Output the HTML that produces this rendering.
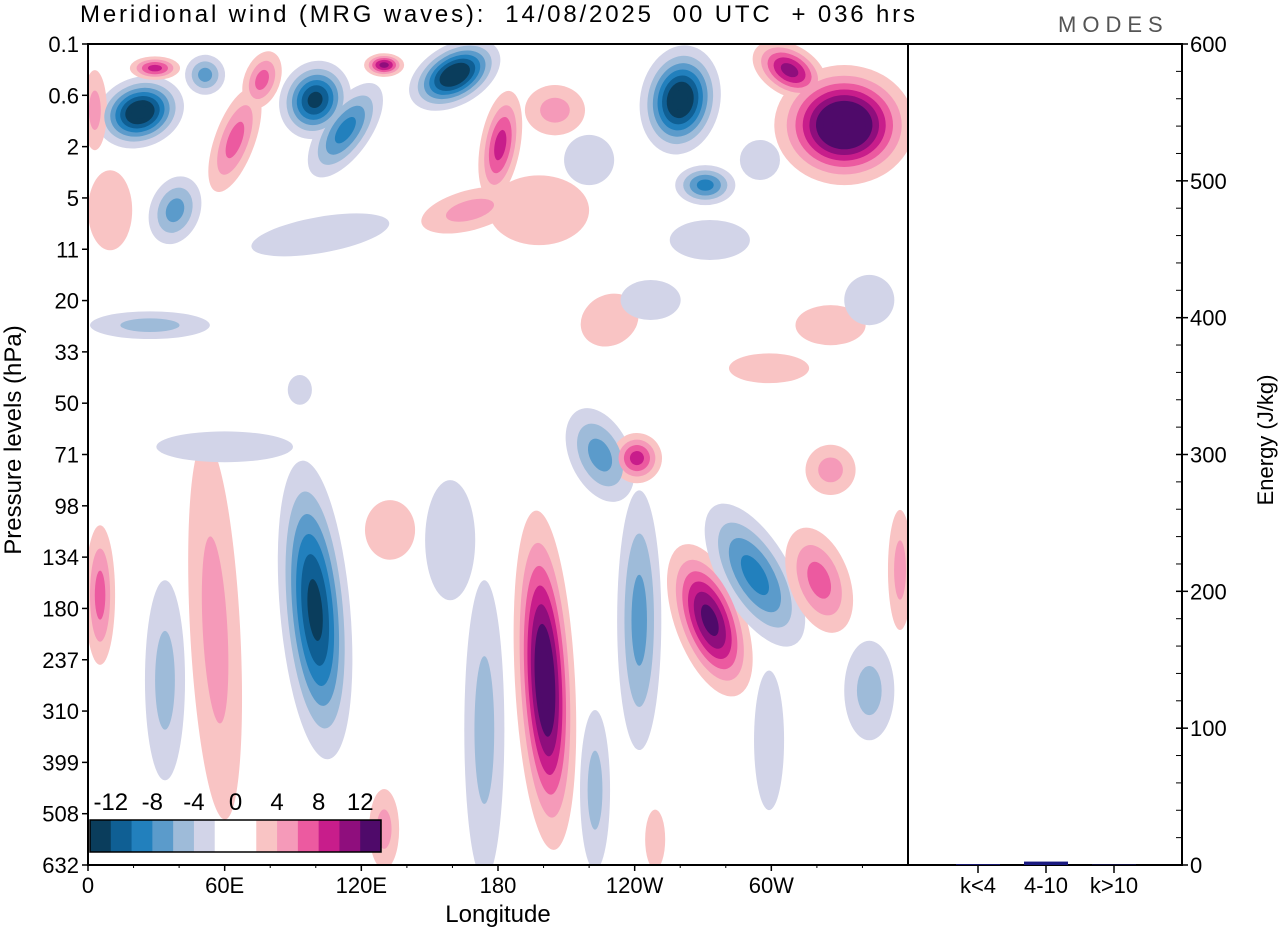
<!DOCTYPE html>
<html><head><meta charset="utf-8">
<style>
html,body{margin:0;padding:0;background:#fff;}
svg text{font-family:"Liberation Sans",sans-serif;fill:#000;white-space:pre;}
</style></head>
<body>
<svg id="chart" width="1280" height="930" viewBox="0 0 1280 930" xmlns="http://www.w3.org/2000/svg">
<defs><clipPath id="clipMain"><rect x="88" y="44" width="820" height="821"/></clipPath></defs>
<text x="80" y="22" font-size="24" textLength="835" lengthAdjust="spacing" xml:space="preserve">Meridional wind (MRG waves):  14/08/2025  00 UTC  + 036 hrs</text>
<text x="1058" y="32" font-size="22" letter-spacing="6" style="fill:#555">MODES</text>
<g id="field" clip-path="url(#clipMain)"></g>
<g id="axes"></g>
</svg>
<script>
// Blob data: lon (deg E, 0-360), level index, radius lon (deg), radius levels, amplitude (m/s), tilt (deg)
const blobLon = [22.8,29.4,51.4,64.5,99.7,76.4,113,130,161,181,167.7,205,260,271,332,308,38.2,3,220,295,9.7,102,273,198,27.2,229,326,299,247,343,93,224.8,241,99.7,5.3,55.8,33.8,200.6,242,273,292.8,321,343,356.5,174,222.6,326,132.6,159,299,130,249,60];
const blobLev = [1.33,0.47,0.6,1.87,1.09,0.7,1.68,0.41,0.6,1.97,3.24,1.29,1.09,2.75,1.58,0.51,3.24,1.29,2.26,2.26,3.24,3.72,3.82,3.24,5.48,5.38,5.48,6.32,4.99,4.99,6.74,8.01,8.07,11.03,10.74,11.42,12.4,12.4,11.23,11.23,10.35,10.45,12.6,10.25,13.37,14.54,8.3,9.47,9.67,13.57,15.3,15.5,7.85];
const blobRx = [19.8,11,8.8,8.8,15.4,7.9,11,8.8,13.2,8.8,22,13.2,17.6,13.2,30.7,17.6,11,5.3,11,8.8,9.7,30.7,17.6,22,26.3,13.2,15.4,17.6,13.2,11,5.3,13.2,11,15.4,6.6,11,8.8,13.2,9.7,15.4,15.4,13.2,11,5.3,8.8,6.6,11,11,11,6.6,6.6,4.4,30];
const blobRy = [0.68,0.23,0.39,1.07,0.78,0.58,1.07,0.23,0.97,1.07,0.39,0.49,1.07,0.39,1.17,0.49,0.68,0.78,0.49,0.39,0.78,0.35,0.39,0.68,0.27,0.49,0.39,0.29,0.39,0.49,0.29,0.97,0.49,2.92,1.36,3.7,1.95,3.31,2.53,1.56,1.56,1.07,0.97,1.17,2.92,1.56,0.49,0.58,1.17,1.36,0.78,0.58,0.3];
const blobAmp = [-14,8,-6,6,-12,6,-8,10,-14,8,4,4,-14,-8,16,10,-6,4,-2,-2,2,-2,-2,2,-4,2,2,2,-2,-2,-2,-6,8,-12,6,4,-4,14,-6,12,-8,6,-4,4,-4,-4,4,2,-2,-2,4,2,-2];
const blobTilt = [-20,0,-30,20,25,20,35,0,60,10,-15,0,10,0,0,30,20,0,0,0,0,-10,0,0,0,-30,0,0,0,0,0,-25,-30,-5,0,-3,0,-3,0,-20,-30,-20,0,0,0,0,0,0,0,0,0,0,0];
const levelLabels = ["0.1","0.6","2","5","11","20","33","50","71","98","134","180","237","310","399","508","632"];
const lonLabels = ["0","60E","120E","180","120W","60W"];
const lonTicks = [0,60,120,180,240,300];
const energyTicks = [0,100,200,300,400,500,600];
const barCats = ["k<4","4-10","k>10"];
const barVals = [0.6,2.5,0.3];
const cbarLabels = ["-12","-8","-4","0","4","8","12"];

const NS="http://www.w3.org/2000/svg";
const X0=88,X1=908,Y0=44,Y1=865;
const xLon=l=>X0+(l/360)*(X1-X0);
const yLev=v=>Y0+v*(Y1-Y0)/16;
const EY=e=>Y1-(e/600)*(Y1-Y0);
const negC={2:"#d2d4e8",4:"#9ebbd9",6:"#5b9bcb",8:"#2280bd",10:"#0f5f94",12:"#0a3d5c",14:"#0a3d5c",16:"#0a3d5c"};
const posC={2:"#f9c4c4",4:"#f59ab9",6:"#ec5aa0",8:"#c81d8b",10:"#8f0e7d",12:"#4f0a6a",14:"#4f0a6a",16:"#4f0a6a"};
function mk(tag,attrs,parent){const e=document.createElementNS(NS,tag);for(const k in attrs)e.setAttribute(k,attrs[k]);parent.appendChild(e);return e;}
const field=document.getElementById('field');
const axes=document.getElementById('axes');
for(let L=2;L<=16;L+=2){
  for(let i=0;i<blobAmp.length;i++){
    const A=Math.abs(blobAmp[i]);if(A<L)continue;
    const f=Math.sqrt(Math.log((A+1)/L)/Math.log((A+1)/2));
    const cx=xLon(blobLon[i]),cy=yLev(blobLev[i]);
    const rx=blobRx[i]/360*(X1-X0)*f, ry=blobRy[i]*(Y1-Y0)/16*f;
    const e=mk('ellipse',{cx:cx,cy:cy,rx:rx,ry:ry,fill:blobAmp[i]<0?negC[L]:posC[L],transform:`rotate(${blobTilt[i]} ${cx} ${cy})`},field);
    
    
  }
}
let r=mk('rect',{x:X0,y:Y0,width:X1-X0,height:Y1-Y0,fill:'none',stroke:'#000','stroke-width':2},axes);

r=mk('rect',{x:X1,y:Y0,width:1182-X1,height:Y1-Y0,fill:'none',stroke:'#000','stroke-width':2},axes);

levelLabels.forEach((t,i)=>{
  const y=yLev(i);
  mk('line',{x1:X0-6,x2:X0,y1:y,y2:y,stroke:'#000','stroke-width':1.5},axes);
  const tx=mk('text',{x:X0-9,y:y+8,'font-size':22,'text-anchor':'end'},axes);tx.textContent=t;
  
});
lonTicks.forEach((l,i)=>{
  const x=xLon(l);
  mk('line',{x1:x,x2:x,y1:Y1,y2:Y1+6,stroke:'#000','stroke-width':1.5},axes);
  const tx=mk('text',{x:x,y:Y1+28,'font-size':22,'text-anchor':'middle'},axes);tx.textContent=lonLabels[i];
  
});
for(let l=0;l<360;l+=20){const x=xLon(l);mk('line',{x1:x,x2:x,y1:Y1,y2:Y1+3,stroke:'#000'},axes);}
energyTicks.forEach(e=>{
  const y=EY(e);
  mk('line',{x1:1176,x2:1188,y1:y,y2:y,stroke:'#000','stroke-width':1.5},axes);
  const tx=mk('text',{x:1190,y:y+8,'font-size':22},axes);tx.textContent=e;
  
});
for(let e=0;e<600;e+=20){const y=EY(e);mk('line',{x1:1176,x2:1182,y1:y,y2:y,stroke:'#000'},axes);}
barCats.forEach((c,i)=>{
  const cx=978+i*68;
  const b=mk('rect',{x:cx-22,y:EY(barVals[i]),width:44,height:Y1-EY(barVals[i]),fill:'#1a1a80'},axes);
  
  mk('line',{x1:cx,x2:cx,y1:Y1,y2:Y1+8,stroke:'#000','stroke-width':1.5},axes);
  const tx=mk('text',{x:cx,y:Y1+28,'font-size':22,'text-anchor':'middle'},axes);tx.textContent=c;
  
});
let t=mk('text',{x:498,y:922,'font-size':24,'text-anchor':'middle'},axes);t.textContent='Longitude';

t=mk('text',{x:0,y:0,'font-size':24,'text-anchor':'middle',transform:'translate(21 440) rotate(-90)'},axes);t.textContent='Pressure levels (hPa)';

t=mk('text',{x:0,y:0,'font-size':22,'text-anchor':'middle',transform:'translate(1273 440) rotate(-90)'},axes);t.textContent='Energy (J/kg)';

const cbCols=["#0a3d5c","#0f5f94","#2280bd","#5b9bcb","#9ebbd9","#d2d4e8","#ffffff","#ffffff","#f9c4c4","#f59ab9","#ec5aa0","#c81d8b","#8f0e7d","#4f0a6a"];
const cbg=mk('g',{},axes);
const bw=291/14;
cbCols.forEach((c,i)=>{mk('rect',{x:90+i*bw,y:820,width:bw+0.5,height:32,fill:c},cbg);});
mk('rect',{x:90,y:820,width:291,height:32,fill:'none',stroke:'#000','stroke-width':1.5},cbg);
cbarLabels.forEach((s,i)=>{const tx=mk('text',{x:90+bw*(1+2*i),y:810,'font-size':24,'text-anchor':'middle'},cbg);tx.textContent=s;
});
</script>
</body></html>
